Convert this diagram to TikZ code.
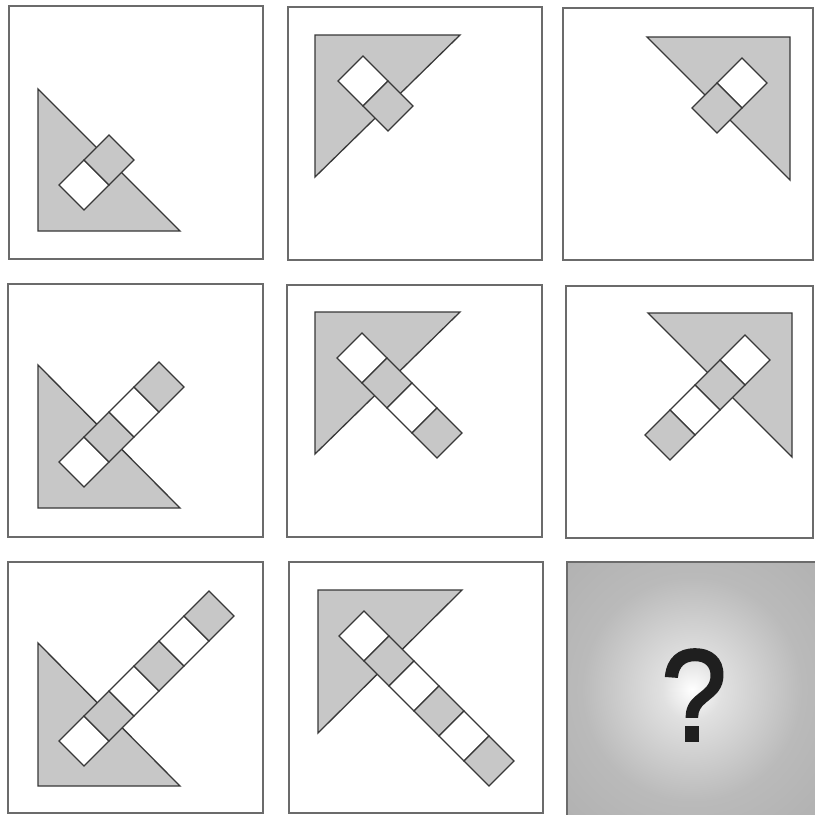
\documentclass[tikz,border=0pt]{standalone}
\usepackage{fontspec}
\newfontfamily\qfont[FakeBold=2.2]{Liberation Sans}
\definecolor{trifill}{gray}{0.78}
\definecolor{edgecol}{gray}{0.22}
\definecolor{frmcol}{gray}{0.42}
\pgfdeclareradialshading{qshade}{\pgfpoint{0bp}{0bp}}{color(0bp)=(white); color(6bp)=(white!88!black); color(22bp)=(white!73!black); color(50bp)=(white!66!black); color(75bp)=(white!64!black)}
\newcommand\cellrow[5]{%
  \foreach \i in {1,...,#5}{%
    \pgfmathtruncatemacro\oddi{mod(\i,2)}%
    \ifnum\oddi=1 \def\cf{white}\else\def\cf{trifill}\fi
    \draw[cellbox,fill=\cf] ({#1+(\i-1)*(#3)-25},{#2+(\i-1)*(#4)}) -- ++(25,-25) -- ++(25,25) -- ++(-25,25) -- cycle;
  }%
}
\begin{document}
\begin{tikzpicture}[x=1pt,y=-1pt,
  panelbox/.style={draw=frmcol,line width=1.8pt,fill=white},
  tribox/.style={draw=edgecol,line width=1.3pt,fill=trifill,line join=miter},
  cellbox/.style={draw=edgecol,line width=1.3pt,line join=miter}]
\useasboundingbox (0,0) rectangle (815,815);
\fill[white] (0,0) rectangle (815,815);

% Row 1
\draw[panelbox] (9,6) rectangle (263,259);
\draw[tribox] (38,89) -- (38,231) -- (180,231) -- cycle;
\cellrow{84}{185}{25}{-25}{2}

\draw[panelbox] (288,7) rectangle (542,260);
\draw[tribox] (315,35) -- (460,35) -- (315,177) -- cycle;
\cellrow{363}{81}{25}{25}{2}

\draw[panelbox] (563,8) rectangle (813,260);
\draw[tribox] (647,37) -- (790,37) -- (790,180) -- cycle;
\cellrow{742}{83}{-25}{25}{2}

% Row 2
\draw[panelbox] (8,284) rectangle (263,537);
\draw[tribox] (38,365) -- (38,508) -- (180,508) -- cycle;
\cellrow{84}{462}{25}{-25}{4}

\draw[panelbox] (287,285) rectangle (542,537);
\draw[tribox] (315,312) -- (460,312) -- (315,454) -- cycle;
\cellrow{362}{358}{25}{25}{4}

\draw[panelbox] (566,286) rectangle (813,538);
\draw[tribox] (648,313) -- (792,313) -- (792,457) -- cycle;
\cellrow{745}{360}{-25}{25}{4}

% Row 3
\draw[panelbox] (8,562) rectangle (263,813);
\draw[tribox] (38,643) -- (38,786) -- (180,786) -- cycle;
\cellrow{84}{741}{25}{-25}{6}

\draw[panelbox] (289,562) rectangle (543,813);
\draw[tribox] (318,590) -- (462,590) -- (318,733) -- cycle;
\cellrow{364}{636}{25}{25}{6}

% Question panel
\shade[shading=qshade] (567,562) rectangle (817,817);
\draw[draw=frmcol,line width=1.8pt] (567,562) rectangle (818,818);
\node[inner sep=0pt,text=black!88,xscale=0.9] (q) at (694,695) {\qfont\fontsize{130}{130}\selectfont ?};
\end{tikzpicture}
\end{document}
